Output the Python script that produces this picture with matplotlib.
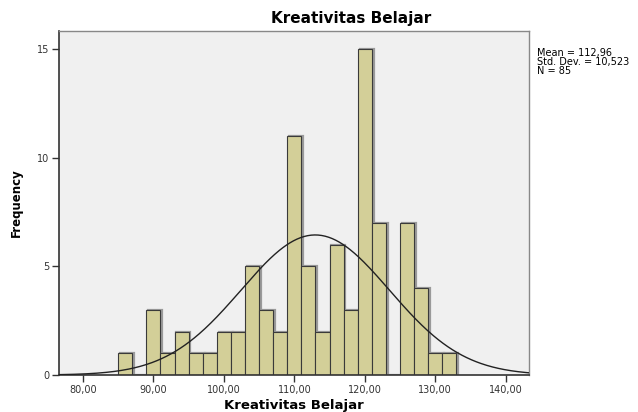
import matplotlib
matplotlib.use("Agg")
import matplotlib.pyplot as plt
import numpy as np

plt.rcParams["font.family"] = ["DejaVu Sans"]

# histogram bins (width 2) and counts
bin_edges = [85, 87, 89, 91, 93, 95, 97, 99, 101, 103, 105, 107, 109, 111,
             113, 115, 117, 119, 121, 123, 125, 127, 129, 131, 133]
counts = [1, 0, 3, 1, 2, 1, 1, 2, 2, 5, 3, 2, 11, 5, 2, 6, 3, 15, 7, 0, 7, 4, 1, 1]

mean = 112.96
std = 10.523
n = 85

xticks = [80, 90, 100, 110, 120, 130, 140]
xticklabels = ["80,00", "90,00", "100,00", "110,00", "120,00", "130,00", "140,00"]
yticks = [0, 5, 10, 15]

fig = plt.figure(figsize=(6.38, 4.12), dpi=100)
ax = fig.add_axes([59 / 638, 1 - 375 / 412, 470 / 638, 344 / 412])
ax.set_facecolor("#f0f0f0")

lefts = np.array(bin_edges[:-1])
widths = np.diff(bin_edges)
# soft shadow behind the bars
ax.bar(lefts + 0.25, counts, width=widths, align="edge", color="none",
       edgecolor="#9a9a9a", linewidth=1.6, zorder=1)
ax.bar(lefts, counts, width=widths, align="edge", color="#d3cf98",
       edgecolor="#3a3a3a", linewidth=0.8, zorder=2)

# normal curve
xs = np.linspace(76.6, 143.3, 400)
binw = 2
ys = n * binw / (std * np.sqrt(2 * np.pi)) * np.exp(-0.5 * ((xs - mean) / std) ** 2)
ax.plot(xs, ys, color="#222222", linewidth=1.0, zorder=3)

ax.set_xlim(76.6, 143.3)
ax.set_ylim(0, 15.83)
ax.set_xticks(xticks)
ax.set_xticklabels(xticklabels, fontsize=7, color="#333333")
ax.set_yticks(yticks)
ax.set_yticklabels([str(v) for v in yticks], fontsize=7, color="#333333")
ax.tick_params(axis="both", length=5, width=1, color="#333333", pad=2)

for side in ["left", "bottom"]:
    ax.spines[side].set_color("#333333")
    ax.spines[side].set_linewidth(1.2)
for side in ["top", "right"]:
    ax.spines[side].set_color("#888888")
    ax.spines[side].set_linewidth(1.0)

ax.set_xlabel("Kreativitas Belajar", fontsize=9.5, fontweight="bold", labelpad=3)
ax.set_ylabel("Frequency", fontsize=8.5, fontweight="bold", labelpad=10)

fig.text(351 / 638, 1 - 18 / 412, "Kreativitas Belajar", fontsize=11,
         fontweight="bold", ha="center", va="center")
fig.text(537 / 638, 1 - 48 / 412,
         "Mean = 112,96\nStd. Dev. = 10,523\nN = 85",
         fontsize=7, ha="left", va="top", linespacing=0.85)

fig.savefig("out.png", dpi=100)
